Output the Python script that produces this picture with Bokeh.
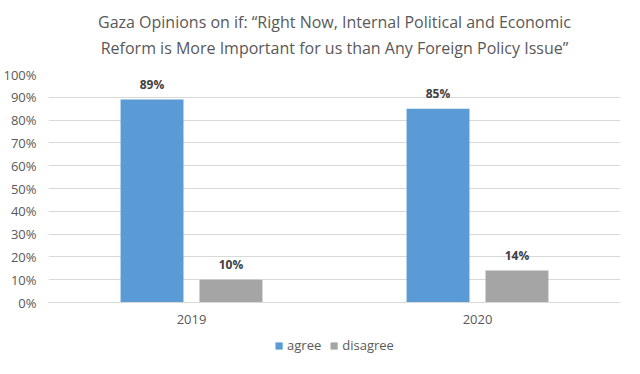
from bokeh.plotting import figure
from bokeh.layouts import column
from bokeh.models import ColumnDataSource, FactorRange, Legend, LegendItem, Title, NumeralTickFormatter, LabelSet, FixedTicker
from bokeh.core.properties import value
from bokeh.transform import dodge
from bokeh.embed import file_html
from bokeh.resources import INLINE

years = ["2019", "2020"]
agree = [0.89, 0.85]
disagree = [0.10, 0.14]
agree_labels = ["89%", "85%"]
disagree_labels = ["10%", "14%"]
series_names = ["agree", "disagree"]
series_colors = ["#5b9bd5", "#a5a5a5"]

FONT = "Open Sans"
GREY = "#595959"

src = ColumnDataSource(dict(year=years, agree=agree, disagree=disagree,
                            al=agree_labels, dl=disagree_labels))

p = figure(x_range=FactorRange(*years), y_range=(0, 1.0), width=624, height=332,
           output_backend="svg", toolbar_location=None,
           min_border_left=40, min_border_right=4, min_border_top=0, min_border_bottom=30)

p.vbar(x=dodge("year", -0.138, range=p.x_range), top="agree", width=0.22,
       source=src, color=series_colors[0], line_color=None)
p.vbar(x=dodge("year", 0.138, range=p.x_range), top="disagree", width=0.22,
       source=src, color=series_colors[1], line_color=None)

for col, lab, off in (("agree", "al", -0.138), ("disagree", "dl", 0.138)):
    p.add_layout(LabelSet(x=dodge("year", off, range=p.x_range), y=col, text=lab, source=src,
                          text_align="center", text_baseline="bottom", y_offset=7,
                          text_font=value(FONT), text_font_style="bold", text_font_size="12px",
                          text_color="#404040"))

p.yaxis.ticker = FixedTicker(ticks=[i / 10 for i in range(11)])
p.yaxis.formatter = NumeralTickFormatter(format="0%")
p.yaxis.axis_line_color = None
p.yaxis.major_tick_line_color = None
p.yaxis.minor_tick_line_color = None
p.yaxis.major_label_text_font = FONT
p.yaxis.major_label_text_font_size = "13px"
p.yaxis.major_label_text_color = GREY
p.yaxis.major_label_standoff = 6

p.xaxis.axis_line_color = "#d9d9d9"
p.xaxis.major_tick_line_color = None
p.xaxis.minor_tick_line_color = None
p.xaxis.major_label_text_font = FONT
p.xaxis.major_label_text_font_size = "13px"
p.xaxis.major_label_text_color = GREY
p.xaxis.major_label_standoff = 6

p.xgrid.grid_line_color = None
p.ygrid.grid_line_color = "#d9d9d9"
p.outline_line_color = None
p.x_range.range_padding = 0.0
p.x_range.group_padding = 0.0

lines = ["Gaza Opinions on if: \u201cRight Now, Internal Political and Economic",
         "Reform is More Important for us than Any Foreign Policy Issue\u201d"]
p.title = None
# spacer between title and plot area
p.add_layout(Title(text=" ", text_font_size="1px", standoff=11), "above")
p.add_layout(Title(text=lines[1], align="center", text_font=FONT, text_font_size="16px",
                   text_font_style="normal", text_color=GREY, standoff=4), "above")
p.add_layout(Title(text=lines[0], align="center", text_font=FONT, text_font_size="16px",
                   text_font_style="normal", text_color=GREY, standoff=0), "above")
# spacer at top
p.add_layout(Title(text=" ", text_font_size="1px", standoff=5), "above")

# legend strip: same bars drawn outside its visible y range, only the legend shows
lg = figure(width=624, height=26, x_range=FactorRange(*years), y_range=(2, 3),
            output_backend="svg", toolbar_location=None,
            min_border=0, min_border_left=0, min_border_right=0,
            min_border_top=0, min_border_bottom=0)
lg.axis.visible = False
lg.grid.grid_line_color = None
lg.outline_line_color = None
items = []
for name, c in zip(series_names, series_colors):
    r = lg.vbar(x="year", top=name, width=0.2, source=src, fill_color=c, line_color=None)
    items.append(LegendItem(label=name, renderers=[r]))
legend = Legend(items=items, orientation="horizontal", border_line_color=None,
                background_fill_alpha=0,
                label_text_font=FONT, label_text_font_size="13px", label_text_color=GREY,
                glyph_width=9, glyph_height=9, spacing=8, label_standoff=4,
                padding=0, margin=0, location="center")
lg.add_layout(legend, "center")

layout = column(p, lg, spacing=0)
open("out.html", "w").write(file_html(layout, INLINE))
